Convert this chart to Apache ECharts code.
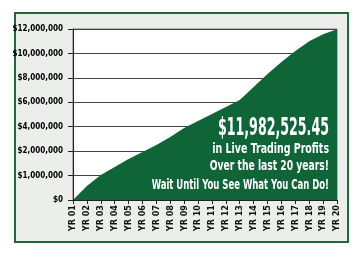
<!DOCTYPE html>
<html><head><meta charset="utf-8">
<script src="https://cdn.jsdelivr.net/npm/echarts@6/dist/echarts.min.js"></script>
<style>html,body{margin:0;padding:0;background:#fff}#c{width:363px;height:258px}</style>
</head><body><div id="c"></div>
<script>
const years = ['YR 01','YR 02','YR 03','YR 04','YR 05','YR 06','YR 07','YR 08','YR 09','YR 10','YR 11','YR 12','YR 13','YR 14','YR 15','YR 16','YR 17','YR 18','YR 19','YR 20'];
const profits = [0, 570000, 1020000, 1350000, 1680000, 1960000, 2500000, 3160000, 3900000, 4470000, 5040000, 5620000, 6180000, 7250000, 8320000, 9300000, 10200000, 11000000, 11580000, 11982525.45];
const tickValues = [0, 1000000, 2000000, 4000000, 6000000, 8000000, 10000000, 12000000];
const tickLabels = ['$0','$1,000,000','$2,000,000','$4,000,000','$6,000,000','$8,000,000','$10,000,000','$12,000,000'];
const headline = '$11,982,525.45';
const subLines = ['in Live Trading Profits','Over the last 20 years!','Wait Until You See What You Can Do!'];

// the chart's y scale is piecewise: equal spacing between the listed tick values
function toAxis(v){
  for(let i=0;i<tickValues.length-1;i++){
    const a=tickValues[i], b=tickValues[i+1];
    if(v<=b) return i+(v-a)/(b-a);
  }
  return tickValues.length-1;
}
const FONT = "'Liberation Sans Narrow','DejaVu Sans Condensed',sans-serif";
function txt(s, y, size, sx){
  return {type:'text', z:100, x:329, y:y, scaleX:sx, originX:0, originY:0,
    style:{text:s, fill:'#fff', font:"bold "+size+"px "+FONT, textAlign:'right', textVerticalAlign:'middle'}};
}
const chart = echarts.init(document.getElementById('c'), null, {renderer:'canvas'});
chart.setOption({
  animation:false,
  backgroundColor:'#ffffff',
  graphic:[
    {type:'rect', z:-10, shape:{x:15,y:13,width:333,height:229}, style:{fill:'#eceeeb', stroke:'#1c6a3a', lineWidth:2}},
    txt(headline, 129, 24, 0.585),
    txt(subLines[0], 149, 14, 0.75),
    txt(subLines[1], 166.5, 14, 0.73),
    txt(subLines[2], 185, 14, 0.675)
  ],
  grid:{left:73,right:26,top:29,bottom:58,show:true,backgroundColor:'#ffffff',borderColor:'#777',borderWidth:1},
  xAxis:{type:'category',data:years,boundaryGap:false,
    axisLine:{lineStyle:{color:'#222',width:1}},
    axisTick:{show:true,length:4,lineStyle:{color:'#222'}},
    axisLabel:{rotate:90,interval:0,color:'#111',fontWeight:'bold',fontSize:9,fontFamily:FONT,margin:5}},
  yAxis:{type:'value',min:0,max:tickValues.length-1,interval:1,
    axisLine:{show:true,lineStyle:{color:'#222'}},
    axisTick:{show:true,length:5,lineStyle:{color:'#222'}},
    splitLine:{lineStyle:{color:'#444',width:1}},
    axisLabel:{color:'#000',fontWeight:'bold',fontSize:8,fontFamily:FONT,margin:10,
      formatter:(v)=>tickLabels[Math.round(v)]}},
  series:[{type:'line',data:profits.map(toAxis),symbol:'none',
    lineStyle:{width:0},areaStyle:{color:'#0f6538',opacity:1},z:5}]
});
</script></body></html>
